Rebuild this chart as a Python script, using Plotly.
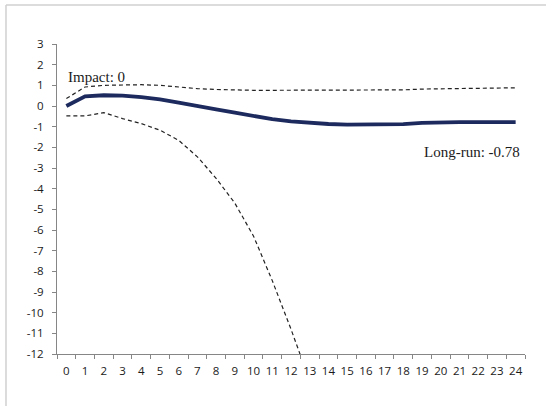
import plotly.graph_objects as go

# Horizon (periods after the shock)
periods = [str(i) for i in range(25)]

# Point estimate of the impulse response
response = [0.0, 0.47, 0.52, 0.50, 0.43, 0.32, 0.16, -0.02, -0.16, -0.32,
            -0.50, -0.64, -0.74, -0.81, -0.87, -0.90, -0.90, -0.90, -0.88,
            -0.82, -0.78, -0.78, -0.78, -0.78, -0.78]

# Upper confidence band
upper = [0.36, 0.92, 1.00, 1.03, 1.03, 1.00, 0.92, 0.84, 0.80, 0.77,
         0.76, 0.76, 0.76, 0.76, 0.76, 0.76, 0.76, 0.76, 0.78, 0.82,
         0.83, 0.85, 0.88, 0.88, 0.88]

# Lower confidence band (falls off the bottom of the axis after period 12)
lower = [-0.48, -0.48, -0.32, -0.61, -0.85, -1.17, -1.66, -2.46, -3.50,
         -4.70, -6.30, -8.45, -10.80, -13.30]

y_ticks = list(range(-12, 4))
y_tick_text = [str(v) for v in y_ticks]  # plain hyphen minus signs

navy = "#1c2a5e"
band_color = "#222222"
axis_color = "#868686"
label_font = dict(family="Open Sans", size=11.5, color="#1a1a1a")
note_font = dict(family="Liberation Serif", size=15, color="#1a1a1a")

fig = go.Figure()

fig.add_trace(go.Scatter(
    x=periods[:len(upper)], y=upper, mode="lines",
    line=dict(color=band_color, width=1.2, dash="4px,3px"),
    showlegend=False, hoverinfo="skip"))

fig.add_trace(go.Scatter(
    x=periods[:len(lower)], y=lower, mode="lines",
    line=dict(color=band_color, width=1.2, dash="4px,3px"),
    showlegend=False, hoverinfo="skip"))

fig.add_trace(go.Scatter(
    x=periods, y=response, mode="lines",
    line=dict(color=navy, width=3.8),
    showlegend=False))

fig.add_annotation(
    x=0, y=1.4, xref="x", yref="y", text=f"Impact: {response[0]:g}",
    showarrow=False, xanchor="left", yanchor="middle", font=note_font)

fig.add_annotation(
    x=24.34, y=-2.23, xref="x", yref="y", text=f"Long-run: {response[-1]:.2f}",
    showarrow=False, xanchor="right", yanchor="middle", font=note_font)

# Chart-area frame (top and left edges; the rest runs off the page)
fig.add_shape(
    type="line", xref="paper", yref="paper",
    x0=-0.109, x1=-0.109, y0=-0.5, y1=1.126,
    line=dict(color="#d0d0d0", width=1.5), layer="below")
fig.add_shape(
    type="line", xref="paper", yref="paper",
    x0=-0.109, x1=1.5, y0=1.126, y1=1.126,
    line=dict(color="#d0d0d0", width=1.5), layer="below")

fig.update_xaxes(
    type="category", categoryorder="array", categoryarray=periods,
    range=[-0.5, 24.5], tickson="boundaries", tickangle=0,
    ticks="outside", ticklen=4, tickcolor=axis_color,
    ticklabelstandoff=6,
    showline=True, linecolor=axis_color, linewidth=1,
    showgrid=False, zeroline=False, tickfont=label_font)

fig.update_yaxes(
    range=[-12, 3], tickvals=y_ticks, ticktext=y_tick_text,
    ticks="outside", ticklen=4, tickcolor=axis_color,
    ticklabelstandoff=6,
    showline=True, linecolor=axis_color, linewidth=1,
    showgrid=False, zeroline=False, tickfont=label_font)

fig.update_layout(
    width=546, height=406,
    margin=dict(l=57, r=21, t=44, b=52),
    paper_bgcolor="white", plot_bgcolor="white")

fig.write_html("out.html")
